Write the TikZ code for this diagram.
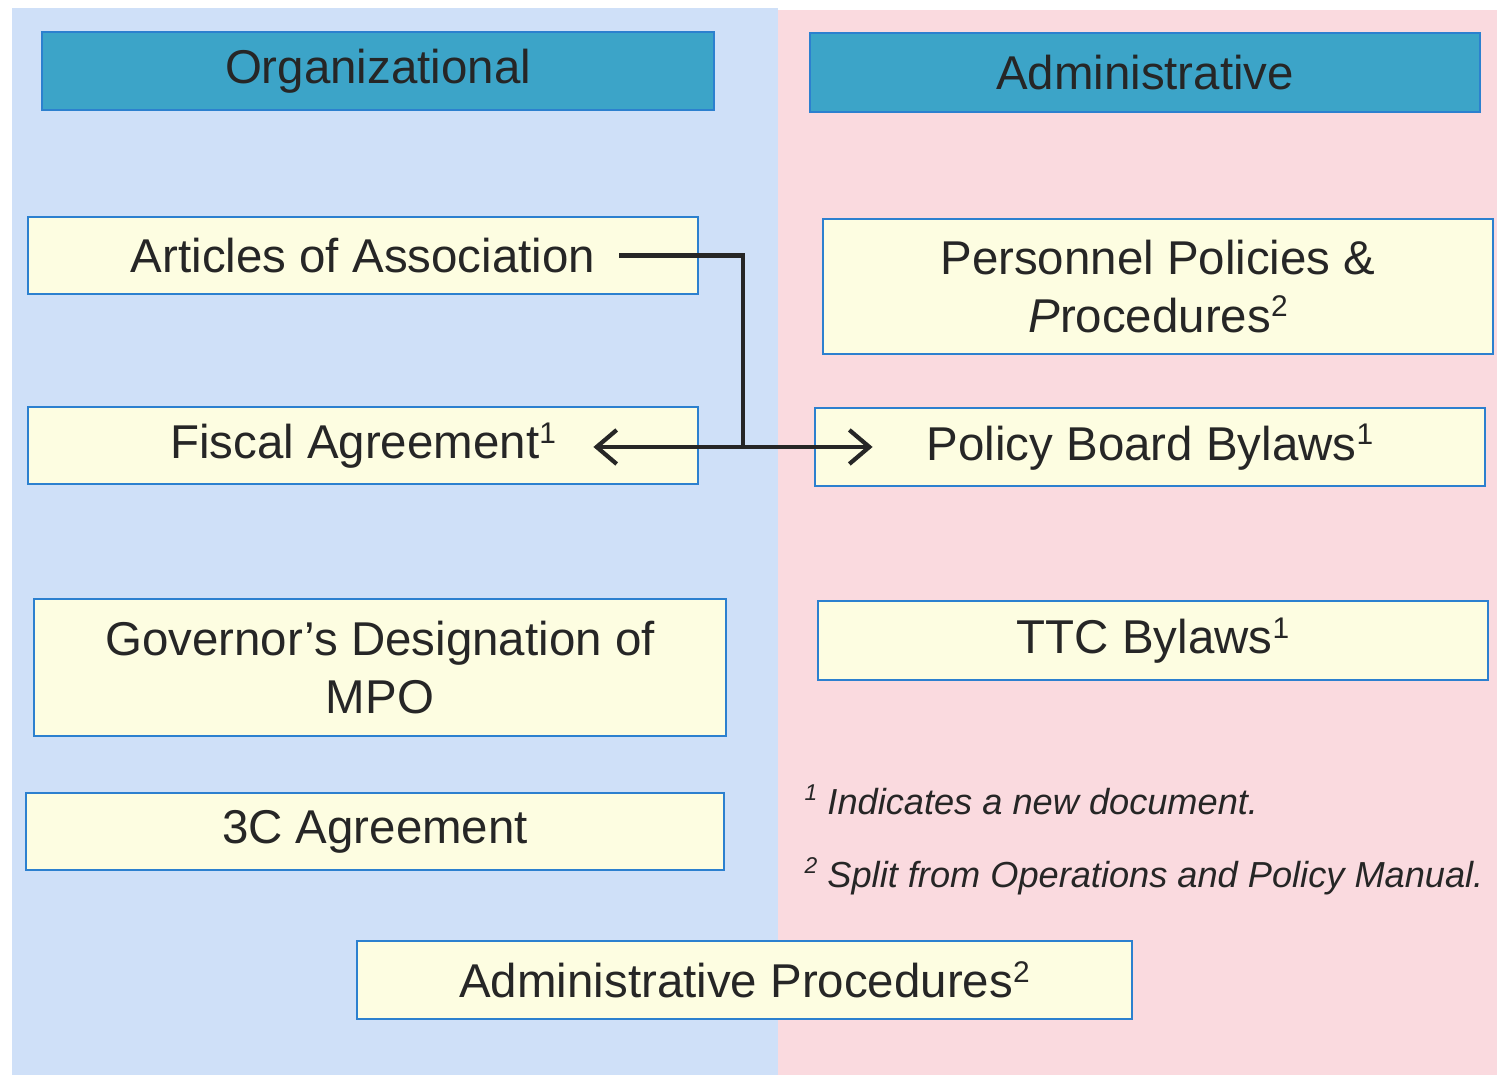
\documentclass[tikz,border=0pt]{standalone}
\usepackage{fontspec}
\setmainfont{Liberation Sans}
\usetikzlibrary{positioning,arrows.meta}
\definecolor{org-blue}{HTML}{CFE0F8}
\definecolor{adm-pink}{HTML}{FADADF}
\definecolor{head-teal}{HTML}{3CA4C8}
\definecolor{doc-yellow}{HTML}{FDFDE1}
\definecolor{doc-edge}{HTML}{2C80CF}
\definecolor{ink}{HTML}{262626}

% footnote marks
\newcommand\fnmark[1]{\raisebox{0.62ex}{\fontsize{8.5}{8.5}\selectfont #1}}
\newcommand\notemark[1]{\raisebox{0.75ex}{\fontsize{6.5}{6.5}\selectfont #1}}

\tikzset{
	hdr/.style={draw=doc-edge,fill=head-teal,line width=0.8pt,minimum width=6.7cm,minimum height=0.78cm,inner sep=0pt,text=ink,font=\fontsize{13.5}{16.3}\selectfont},
	doc/.style={draw=doc-edge,fill=doc-yellow,line width=0.8pt,minimum width=6.7cm,minimum height=0.77cm,inner sep=0pt,align=center,text=ink,font=\fontsize{13.5}{16.3}\selectfont},
	link/.style={draw=ink,line width=1.2pt,>={Straight Barb[length=2mm,width=3.4mm,line width=1.2pt]}},
	note/.style={anchor=base west,inner sep=0pt,text=ink,font=\fontsize{10.3}{12}\selectfont\itshape}
}

\begin{document}
\begin{tikzpicture}
	\useasboundingbox (0, 0) rectangle (14.97, 10.75);
	\fill[white] (0, 0) rectangle (14.97, 10.75);

	% the two columns
	\fill[org-blue] (0.12, 0) rectangle (7.78, 10.67);
	\fill[adm-pink] (7.78, 0) rectangle (14.97, 10.65);

	% column headers
	\node[hdr, minimum width=6.72cm] (org) at (3.78, 10.04) {Organizational};
	\node[hdr, minimum height=0.79cm] (adm) at (11.45, 10.025) {Administrative};

	% organizational documents
	\node[doc] (art) at (3.63, 8.195) {Articles of Association};
	\node[doc] (fisc) at (3.63, 6.295) {Fiscal Agreement\fnmark{1}};
	\node[doc, minimum width=6.92cm, minimum height=1.37cm] (gov) at (3.80, 4.075) {Governor's Designation of\\MPO};
	\node[doc, minimum width=6.98cm] (threec) at (3.75, 2.435) {3C Agreement};

	% administrative documents
	\node[doc, minimum height=1.35cm] (pers) at (11.58, 7.885) {Personnel Policies \&\\\textit{P}rocedures\fnmark{2}};
	\node[doc, minimum height=0.78cm] (pbb) at (11.50, 6.28) {Policy Board Bylaws\fnmark{1}};
	\node[doc, minimum height=0.79cm] (ttc) at (11.53, 4.345) {TTC Bylaws\fnmark{1}};

	% shared by both columns
	\node[doc, minimum width=7.75cm, minimum height=0.78cm] (admproc) at (7.445, 0.95) {Administrative Procedures\fnmark{2}};

	% split of the articles
	\coordinate (split) at (7.43, 6.28);
	\draw[link] ([xshift=-8mm]art.east) -| (split);
	\draw[link,->] (split) -- ([xshift=-10.6mm]fisc.east |- split);
	\draw[link,->] (split) -- ([xshift=5.9mm]pbb.west |- split);

	% footnotes
	\node[note] (fn1) at (8.04, 2.60) {\notemark{1} Indicates a new document.};
	\node[note] (fn2) at (8.04, 1.87) {\notemark{2} Split from Operations and Policy Manual.};
\end{tikzpicture}
\end{document}
